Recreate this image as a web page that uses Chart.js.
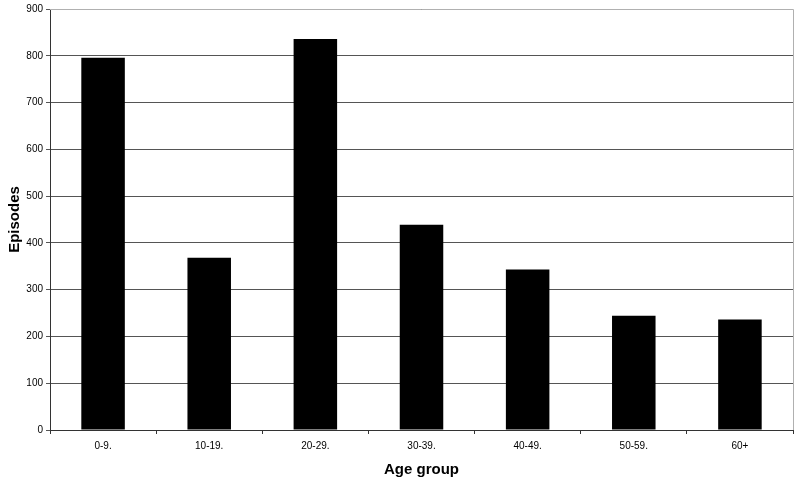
<!DOCTYPE html>
<html>
<head>
<meta charset="utf-8">
<script src="https://cdn.jsdelivr.net/npm/chart.js@4"></script>
<style>
  body { margin: 0; background: #fff; }
  canvas { display: block; }
</style>
</head>
<body>
<canvas id="myChart" width="800" height="479"></canvas>
<script>
// data
var ageGroups = ['0-9.', '10-19.', '20-29.', '30-39.', '40-49.', '50-59.', '60+'];
var episodes = [796, 368, 836, 439, 343, 244, 236];

// light frame on top and right of the plot area
const frame = {
    id: 'frame',
    afterDraw(chart) {
        const a = chart.chartArea;
        const ctx = chart.ctx;
        ctx.save();
        ctx.strokeStyle = '#b0b0b0';
        ctx.lineWidth = 1;
        ctx.beginPath();
        ctx.moveTo(a.left, a.top + 0.5);
        ctx.lineTo(a.right + 0.5, a.top + 0.5);
        ctx.lineTo(a.right + 0.5, a.bottom);
        ctx.stroke();
        ctx.restore();
    }
};

const data = {
    labels: ageGroups,
    datasets: [{
        label: 'Episodes',
        data: episodes,
        backgroundColor: '#000',
        borderWidth: 0,
        barPercentage: 0.41,
        categoryPercentage: 1.0
    }]
};

const config = {
    type: 'bar',
    data,
    options: {
        responsive: false,
        animation: false,
        layout: { padding: { top: 9, right: 7, left: 0, bottom: 0 } },
        plugins: {
            legend: { display: false },
            tooltip: { enabled: false }
        },
        scales: {
            x: {
                afterFit: function (scale) { scale.height = 49; },
                grid: {
                    offset: true,
                    drawOnChartArea: false,
                    drawTicks: true,
                    tickLength: 4,
                    color: '#333'
                },
                border: { color: '#333', width: 1 },
                ticks: {
                    color: '#000',
                    padding: 6,
                    font: { family: 'Liberation Sans, Arial', size: 10 }
                },
                title: {
                    display: true,
                    text: 'Age group',
                    color: '#000',
                    padding: { top: 4, bottom: 0 },
                    font: { family: 'Liberation Sans, Arial', size: 15, weight: 'bold' }
                }
            },
            y: {
                min: 0,
                max: 900,
                afterFit: function (scale) { scale.width = 50; },
                ticks: {
                    stepSize: 100,
                    color: '#000',
                    padding: 3,
                    font: { family: 'Liberation Sans, Arial', size: 10 }
                },
                grid: {
                    color: '#555',
                    tickLength: 4
                },
                border: { color: '#333', width: 1 },
                title: {
                    display: true,
                    text: 'Episodes',
                    color: '#000',
                    padding: { top: 6, bottom: 0 },
                    font: { family: 'Liberation Sans, Arial', size: 15, weight: 'bold' }
                }
            }
        }
    },
    plugins: [frame]
};

const myChart = new Chart(
    document.getElementById('myChart'),
    config
);
</script>
</body>
</html>
